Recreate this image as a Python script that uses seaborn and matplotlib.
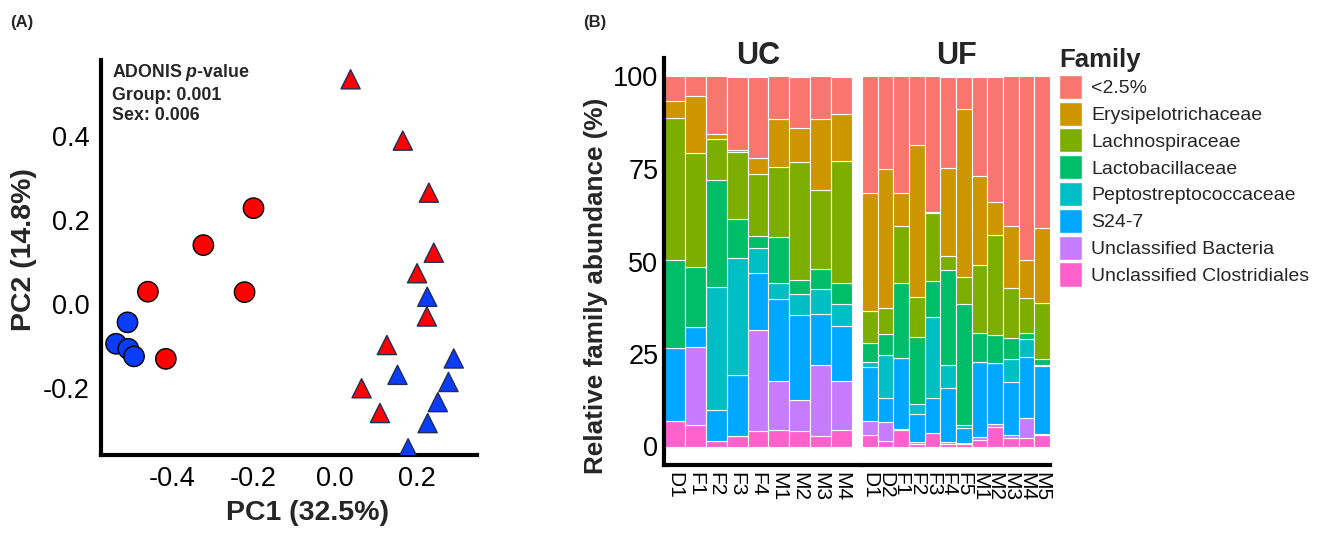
import numpy as np
import pandas as pd
import matplotlib
matplotlib.use("Agg")
import matplotlib.pyplot as plt
import seaborn as sns
from matplotlib.patches import Patch

# ---- panel A: PCoA scores ----
pc1 = [-0.200, -0.323, -0.459, -0.222, -0.415,
       -0.509, -0.537, -0.507, -0.493,
       0.038, 0.166, 0.230, 0.242, 0.201, 0.225, 0.127, 0.065, 0.110,
       0.226, 0.291, 0.153, 0.278, 0.252, 0.227, 0.179]
pc2 = [0.228, 0.140, 0.029, 0.028, -0.131,
       -0.044, -0.095, -0.107, -0.125,
       0.535, 0.389, 0.265, 0.122, 0.073, -0.030, -0.098, -0.201, -0.260,
       0.017, -0.130, -0.169, -0.186, -0.234, -0.284, -0.344]
group = ["UC"] * 9 + ["UF"] * 16
sex = ["F"] * 5 + ["M"] * 4 + ["F"] * 9 + ["M"] * 7

# ---- panel B: relative family abundance (%) ----
families = ["<2.5%", "Erysipelotrichaceae", "Lachnospiraceae", "Lactobacillaceae",
            "Peptostreptococcaceae", "S24-7", "Unclassified Bacteria",
            "Unclassified Clostridiales"]
family_colors = ["#F8766D", "#CD9600", "#7CAE00", "#00BE67",
                 "#00BFC4", "#00A9FF", "#C77CFF", "#FF61CC"]
uc_samples = ["D1", "F1", "F2", "F3", "F4", "M1", "M2", "M3", "M4"]
uf_samples = ["D1", "D2", "F1", "F2", "F3", "F4", "F5", "M1", "M2", "M3", "M4", "M5"]
# rows follow families, columns follow samples
uc_abund = [
    [6.6, 5.4, 15.5, 19.8, 21.9, 11.6, 13.8, 11.6, 10.0],
    [4.5, 15.4, 1.5, 0.5, 4.5, 12.9, 9.4, 19.0, 12.9],
    [38.6, 30.7, 11.0, 18.3, 16.6, 19.0, 31.8, 21.5, 33.0],
    [23.6, 16.2, 29.0, 10.5, 3.4, 12.2, 3.9, 5.4, 5.5],
    [0.0, 0.0, 33.0, 31.5, 6.7, 4.4, 5.6, 6.7, 6.1],
    [19.7, 5.4, 8.6, 16.5, 15.3, 22.1, 23.0, 13.8, 14.7],
    [0.0, 21.0, 0.0, 0.0, 27.3, 13.3, 8.3, 19.2, 13.4],
    [7.0, 5.9, 1.4, 2.9, 4.3, 4.5, 4.2, 2.8, 4.4],
]
uf_abund = [
    [31.4, 24.9, 31.4, 18.5, 36.6, 24.8, 8.8, 26.8, 33.8, 40.5, 49.5, 40.9],
    [32.1, 37.6, 9.0, 41.1, 0.4, 23.6, 45.4, 24.1, 9.1, 16.7, 10.3, 20.3],
    [8.5, 7.0, 15.4, 10.7, 18.3, 3.8, 7.3, 18.4, 26.9, 13.6, 9.6, 15.1],
    [5.1, 5.7, 20.2, 18.2, 9.8, 25.8, 32.8, 7.8, 7.7, 5.5, 1.5, 1.6],
    [1.4, 11.7, 0.0, 2.7, 21.8, 6.3, 0.8, 0.0, 0.0, 6.2, 5.0, 0.3],
    [14.5, 6.4, 19.2, 7.6, 9.5, 14.5, 3.9, 20.4, 16.5, 14.5, 16.4, 18.4],
    [3.9, 5.3, 0.3, 0.5, 0.0, 0.5, 0.4, 0.7, 0.6, 0.6, 5.4, 0.3],
    [3.1, 1.4, 4.5, 0.7, 3.6, 0.7, 0.6, 1.8, 5.4, 2.4, 2.3, 3.1],
]

sns.set_style("white")
plt.rcParams["font.family"] = ["Liberation Sans", "DejaVu Sans"]
plt.rcParams["mathtext.fontset"] = "custom"
plt.rcParams["mathtext.it"] = "Liberation Sans:italic:bold"
plt.rcParams["mathtext.rm"] = "Liberation Sans:bold"

fig = plt.figure(figsize=(13.2, 5.36), dpi=100)

# ================= panel A =================
axA = fig.add_axes([101 / 1320, 1 - 455 / 536, 376 / 1320, 395 / 536])
pcoa = pd.DataFrame({"PC1": pc1, "PC2": pc2, "Group": group, "Sex": sex})
sex_pal = {"F": "#FF0000", "M": "#0B3CF7"}
sns.scatterplot(data=pcoa[pcoa.Group == "UC"], x="PC1", y="PC2", hue="Sex",
                palette=sex_pal, marker="o", s=215, edgecolor="black",
                linewidth=1.0, legend=False, ax=axA, zorder=3)
sns.scatterplot(data=pcoa[pcoa.Group == "UF"], x="PC1", y="PC2", hue="Sex",
                palette=sex_pal, marker="^", s=190, edgecolor="#1F2D5A",
                linewidth=1.0, legend=False, ax=axA, zorder=3)
axA.set_xlim(-0.574, 0.348)
axA.set_ylim(-0.360, 0.581)
axA.set_xticks([-0.4, -0.2, 0.0, 0.2])
axA.set_yticks([-0.2, 0.0, 0.2, 0.4])
axA.set_xticklabels(["-0.4", "-0.2", "0.0", "0.2"])
axA.set_yticklabels(["-0.2", "0.0", "0.2", "0.4"])
axA.tick_params(length=0, labelsize=19.5, labelcolor="black", pad=8)
for s in ["top", "right"]:
    axA.spines[s].set_visible(False)
for s in ["left", "bottom"]:
    axA.spines[s].set_linewidth(3)
    axA.spines[s].set_color("black")
axA.set_xlabel("PC1 (32.5%)", fontsize=20.5, fontweight="bold")
axA.set_ylabel("PC2 (14.8%)", fontsize=20.5, fontweight="bold")
axA.xaxis.set_label_coords(0.548, -0.115)
axA.yaxis.set_label_coords(-0.17, 0.52)
axA.text(0.029, 0.994, "ADONIS $p$-value\nGroup: 0.001\nSex: 0.006",
         transform=axA.transAxes, ha="left", va="top", fontsize=12.8,
         fontweight="bold", linespacing=1.25)
fig.text(10 / 1320, 1 - 22 / 536, "(A)", fontsize=12, fontweight="bold", va="center")
fig.text(583 / 1320, 1 - 22 / 536, "(B)", fontsize=12, fontweight="bold", va="center")

# ================= panel B =================
bottom = 1 - 465 / 536
height = 407 / 536
axUC = fig.add_axes([664 / 1320, bottom, 188 / 1320, height])
axUF = fig.add_axes([862 / 1320, bottom, 188 / 1320, height])


def stack_panel(ax, samples, abund, title):
    long = pd.DataFrame(
        [(s, fam, v) for fam, row in zip(families, abund) for s, v in zip(samples, row)],
        columns=["Sample", "Family", "Abundance"])
    sns.histplot(data=long, x="Sample", weights="Abundance", hue="Family",
                 hue_order=families, palette=family_colors, multiple="stack",
                 discrete=True, shrink=1, alpha=1, edgecolor="white",
                 linewidth=0.8, legend=False, ax=ax)
    ax.set_xlim(-0.5, len(samples) - 0.5)
    ax.set_ylim(-5, 105)
    ax.set_yticks([0, 25, 50, 75, 100])
    ax.set_xticks(range(len(samples)))
    ax.set_xticklabels(samples, rotation=270)
    ax.tick_params(length=0, labelsize=19.5, labelcolor="black", pad=4)
    ax.tick_params(axis="x", labelsize=15, pad=5)
    ax.set_xlabel("")
    ax.set_ylabel("")
    ax.set_title(title, fontsize=22, fontweight="bold", y=0.985, pad=0)
    for s in ["top", "right", "left"]:
        ax.spines[s].set_visible(False)
    ax.spines["bottom"].set_linewidth(3)
    ax.spines["bottom"].set_color("black")


stack_panel(axUC, uc_samples, uc_abund, "UC")
stack_panel(axUF, uf_samples, uf_abund, "UF")
axUC.spines["left"].set_visible(True)
axUC.spines["left"].set_linewidth(3)
axUC.spines["left"].set_color("black")
axUC.spines["bottom"].set_bounds(-0.5, 9.0)
axUF.set_yticks([])
axUC.set_ylabel("Relative family abundance (%)", fontsize=18.8, fontweight="bold")
axUC.yaxis.set_label_coords(-0.30, 0.44)

handles = [Patch(facecolor=c, edgecolor="white", label=f)
           for f, c in zip(families, family_colors)]
fig.legend(handles=handles, loc="upper left", bbox_to_anchor=(1059 / 1320, 1 - 48 / 536),
           title="Family", frameon=False, fontsize=14,
           title_fontproperties={"weight": "bold", "size": 18.5}, alignment="left",
           handlelength=1.19, handleheight=1.53, labelspacing=0.14,
           handletextpad=0.46, borderaxespad=0, borderpad=0)

fig.savefig("out.png", dpi=100)
